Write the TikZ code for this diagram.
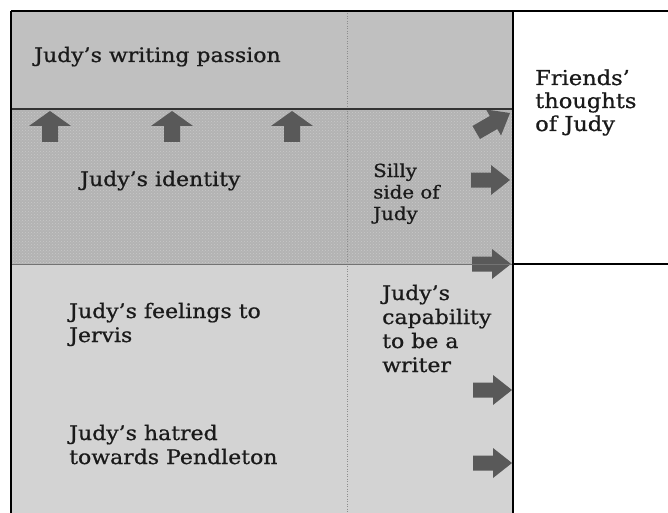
\documentclass[tikz,border=0pt]{standalone}
\usepackage{fontspec}
\setmainfont[FakeStretch=1.1,FakeBold=0.8]{DejaVu Serif}
\usetikzlibrary{patterns}
\definecolor{toprow}{HTML}{C0C0C0}
\definecolor{midrow}{HTML}{B3B3B3}
\definecolor{middot}{HTML}{C8C8C8}
\definecolor{botrow}{HTML}{D3D3D3}
\definecolor{arrowgray}{HTML}{595959}
\definecolor{inkgray}{HTML}{1A1A1A}
\definecolor{dotline}{HTML}{8C8C8C}
\tikzset{
  txt/.style={anchor=base west, inner sep=0pt, text=inkgray,
    font=\fontsize{20}{24}\selectfont},
  border/.style={draw=black, line width=1.4pt},
  pics/uparrow/.style={code={
    \fill[arrowgray] (0,0) -- (21,15) -- (8,15) -- (8,31) -- (-8,31) -- (-8,15) -- (-21,15) -- cycle;}},
  pics/rarrow/.style={code={
    \fill[arrowgray] (0,0) -- (-19,-15) -- (-19,-7.5) -- (-39,-7.5) -- (-39,7.5) -- (-19,7.5) -- (-19,15) -- cycle;}},
}
\begin{document}
\begin{tikzpicture}[x=1pt,y=-1pt]
\useasboundingbox (0,0) rectangle (668,513);
% fills
\fill[toprow] (11,11) rectangle (513,109);
\fill[midrow] (11,109) rectangle (513,264);
\fill[pattern=crosshatch dots, pattern color=middot] (11,109) rectangle (513,264);
\fill[botrow] (11,264) rectangle (513,513);
% dotted column divider
\draw[dotline, line width=1pt, dash pattern=on 1pt off 1.5pt] (347,11) -- (347,513);
% arrows
\pic at (50,111) {uparrow};
\pic at (172,111) {uparrow};
\pic at (292,111) {uparrow};
\begin{scope}
  \clip (11,110) rectangle (513,264);
  \pic[rotate=30] at (510,113) {rarrow};
\end{scope}
\pic at (510,180) {rarrow};
\pic at (511,264) {rarrow};
\pic at (512,390) {rarrow};
\pic at (512,463) {rarrow};
% lines
\draw[black!80, line width=1.2pt] (11,109) -- (513,109);
\draw[black!55, line width=1pt] (11,264) -- (513,264);
\draw[black, line width=1.2pt] (513,264) -- (668,264);
\draw[border] (11,11) -- (668,11);
\draw[border] (11,11) -- (11,513);
\draw[black, line width=2pt] (513,11) -- (513,513);
% texts
\node[txt] (passion) at (34,62) {Judy’s writing passion};
\node[txt] (identity) at (80,186) {Judy’s identity};
\node[txt] (friends) at (535,85) {\fontsize{20.5}{23}\selectfont\begin{tabular}[t]{@{}l@{}}Friends’\\thoughts\\of Judy\end{tabular}};
\node[txt] (silly) at (373,177) {\fontsize{18}{21.5}\selectfont\begin{tabular}[t]{@{}l@{}}Silly\\side of\\Judy\end{tabular}};
\node[txt] (capability) at (382,300) {\begin{tabular}[t]{@{}l@{}}Judy’s\\capability\\to be a\\writer\end{tabular}};
\node[txt] (feelings) at (69,318) {\begin{tabular}[t]{@{}l@{}}Judy’s feelings to\\Jervis\end{tabular}};
\node[txt] (hatred) at (69,440) {\begin{tabular}[t]{@{}l@{}}Judy’s hatred\\towards Pendleton\end{tabular}};
\end{tikzpicture}
\end{document}
